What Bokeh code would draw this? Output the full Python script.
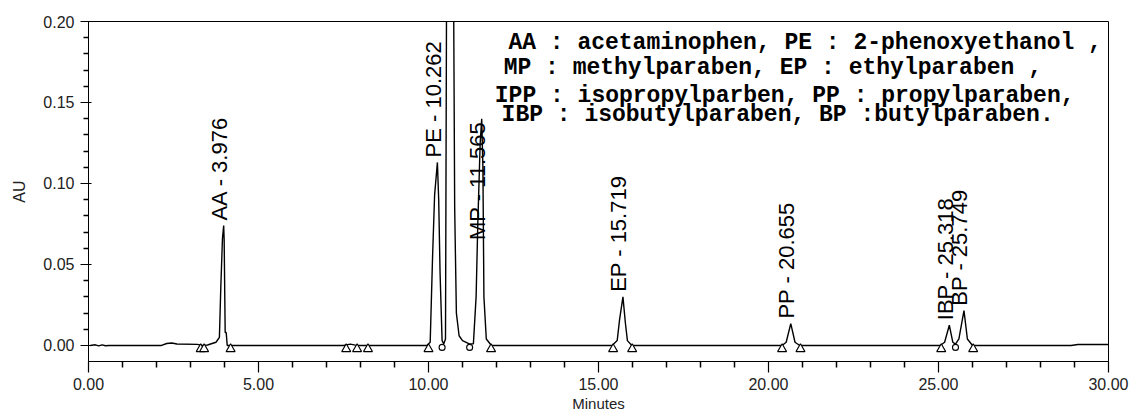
from bokeh.plotting import figure
from bokeh.models import Range1d, FixedTicker, NumeralTickFormatter, ColumnDataSource
from bokeh.core.properties import value
from bokeh.transform import dodge
from bokeh.embed import file_html
from bokeh.resources import INLINE
import math

# ---- data ----
trace_time = [0.05, 0.2, 0.3, 0.4, 0.5, 0.6, 2.15, 2.3, 2.45, 2.6, 3.2, 3.35,
              3.5, 3.75, 3.85, 3.89, 3.94, 3.976, 3.99, 4.02, 4.05, 4.08,
              7.5, 7.7, 7.85, 8.0,
              9.95, 10.05, 10.12, 10.18, 10.262, 10.30, 10.34, 10.40, 10.45,
              10.50, 10.53, 10.63, 10.74, 10.77, 10.82, 10.90, 11.0, 11.2,
              11.32, 11.40, 11.45, 11.52, 11.565, 11.60, 11.63, 11.70, 11.85,
              15.40, 15.55, 15.62, 15.719, 15.79, 15.85, 15.98,
              20.40, 20.52, 20.655, 20.78, 20.92,
              25.05, 25.18, 25.318, 25.42, 25.50, 25.60, 25.749, 25.85, 26.0,
              28.9, 29.1, 30.0]
trace_au = [0.0, 0.0004, -0.0003, 0.0004, -0.0002, 0.0, 0.0, 0.0012, 0.0015, 0.0009, 0.0007, 0.0,
            0.0003, 0.002, 0.005, 0.035, 0.066, 0.074, 0.065, 0.008, 0.008, 0.0,
            0.0, 0.0008, 0.0002, 0.0,
            0.0, 0.002, 0.055, 0.093, 0.113, 0.09, 0.045, 0.003, 0.001,
            0.004, 0.21, 0.42, 0.21, 0.085, 0.02, 0.006, 0.003, 0.001,
            0.001, 0.03, 0.075, 0.125, 0.140, 0.11, 0.03, 0.004, 0.0,
            0.0, 0.003, 0.016, 0.030, 0.014, 0.003, 0.0,
            0.0, 0.002, 0.0135, 0.002, 0.0,
            0.0, 0.002, 0.0125, 0.002, 0.0008, 0.004, 0.0215, 0.004, 0.0,
            0.0, 0.0006, 0.0006]

peak_names = ["AA", "PE", "MP", "EP", "PP", "IBP", "BP"]
peak_rt = [3.976, 10.262, 11.565, 15.719, 20.655, 25.318, 25.749]
peak_height = [0.074, 0.113, 0.140, 0.030, 0.0135, 0.0125, 0.0215]

tri_times = [3.30, 3.40, 4.18, 7.58, 7.90, 8.22, 10.00, 11.84, 15.43, 15.99,
             20.40, 20.94, 25.08, 26.02]
circ_times = [10.40, 11.21, 25.50]

legend_lines = ["AA : acetaminophen, PE : 2-phenoxyethanol ,",
                "MP : methylparaben, EP : ethylparaben ,",
                "IPP : isopropylparben, PP : propylparaben,",
                "IBP : isobutylparaben, BP :butylparaben."]

x_ticks = [0, 5, 10, 15, 20, 25, 30]
x_minor = [1, 2, 3, 4, 6, 7, 8, 9, 11, 12, 13, 14, 16, 17, 18, 19,
           21, 22, 23, 24, 26, 27, 28, 29]
y_ticks = [0.0, 0.05, 0.10, 0.15, 0.20]
y_minor = [0.01, 0.02, 0.03, 0.04, 0.06, 0.07, 0.08, 0.09,
           0.11, 0.12, 0.13, 0.14, 0.16, 0.17, 0.18, 0.19]

# ---- figure ----
p = figure(width=1137, height=416, output_backend="svg", toolbar_location=None,
           x_range=Range1d(0, 30), y_range=Range1d(-0.0099, 0.2),
           min_border_left=88, min_border_right=29, min_border_top=21,
           min_border_bottom=55)
p.background_fill_color = "white"
p.border_fill_color = "white"
p.outline_line_color = "black"
p.outline_line_width = 1
p.xgrid.visible = False
p.ygrid.visible = False

tick_font = "Liberation Sans"
p.xaxis[0].ticker = FixedTicker(ticks=x_ticks, minor_ticks=x_minor)
p.yaxis[0].ticker = FixedTicker(ticks=y_ticks, minor_ticks=y_minor)
p.xaxis.formatter = NumeralTickFormatter(format="0.00")
p.yaxis.formatter = NumeralTickFormatter(format="0.00")
for ax in (p.xaxis, p.yaxis):
    ax.axis_line_color = "black"
    ax.major_tick_line_color = "black"
    ax.minor_tick_line_color = "black"
    ax.minor_tick_line_width = 1.5
    ax.major_tick_line_width = 1.2
    ax.major_label_text_font = tick_font
    ax.major_label_text_font_size = "16px"
    ax.major_label_text_color = "#222222"
    ax.axis_label_text_font = tick_font
    ax.axis_label_text_font_style = "normal"
    ax.axis_label_text_font_size = "15px"
    ax.axis_label_text_color = "#222222"
p.xaxis.major_tick_out = 11
p.xaxis.major_tick_in = 0
p.xaxis.minor_tick_out = 6
p.xaxis.minor_tick_in = 0
p.xaxis.major_label_standoff = 5
p.xaxis.axis_label = "Minutes"
p.xaxis.axis_label_standoff = 2
p.yaxis.major_tick_out = 8
p.yaxis.major_tick_in = 3
p.yaxis.minor_tick_out = 5
p.yaxis.minor_tick_in = 0
p.yaxis.major_label_standoff = 6
p.yaxis.axis_label = "AU"
p.yaxis.axis_label_text_font_size = "16px"
p.yaxis.axis_label_standoff = 12

# chromatogram trace
p.line(trace_time, trace_au, line_color="black", line_width=1.4)

# integration event markers
tri_src = ColumnDataSource(dict(x=tri_times, y=[0.0] * len(tri_times)))
circ_src = ColumnDataSource(dict(x=circ_times, y=[0.0] * len(circ_times)))
p.scatter(x="x", y=dodge("y", -0.0022), source=tri_src, marker="triangle",
          size=9, fill_color="white", line_color="black", line_width=1.1)
p.scatter(x="x", y=dodge("y", -0.0012), source=circ_src, marker="circle",
          size=6, fill_color="white", line_color="black", line_width=1.1)

# peak labels (MP label is pushed down, as in the original)
label_y = [h if n != "MP" else 0.062 for n, h in zip(peak_names, peak_height)]
lab_src = ColumnDataSource(dict(
    x=peak_rt, y=label_y,
    t=[f"{n} - {rt:.3f}" for n, rt in zip(peak_names, peak_rt)]))
p.text(x="x", y="y", text="t", source=lab_src, angle=math.pi / 2,
       text_align="left", text_baseline="middle", x_offset=-4, y_offset=-5,
       text_font=value("Liberation Sans"), text_font_size="22px",
       text_color="black")

# compound legend text box
leg_x = [12.35, 12.21, 11.95, 12.15]
leg_y = [0.187, 0.171, 0.154, 0.1425]
leg_src = ColumnDataSource(dict(x=leg_x, y=leg_y, t=legend_lines))
p.text(x="x", y="y", text="t", source=leg_src, text_align="left",
       text_baseline="middle", text_font=value("Liberation Mono"),
       text_font_style="bold", text_font_size="23px", text_color="black")

open("out.html", "w").write(file_html(p, INLINE))
